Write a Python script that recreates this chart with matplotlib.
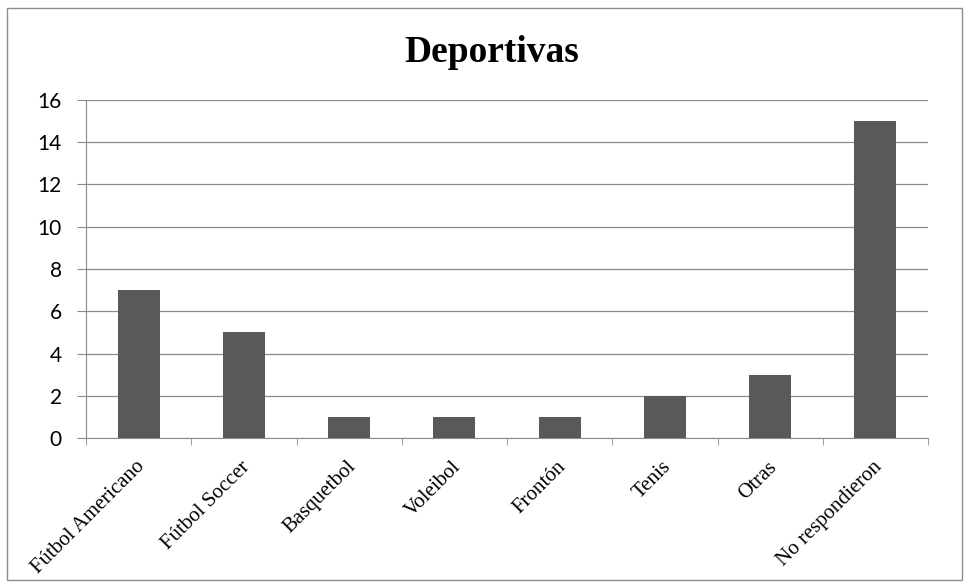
import matplotlib.pyplot as plt
from matplotlib.patches import Rectangle
from matplotlib.transforms import ScaledTranslation

categories = ['Fútbol Americano', 'Fútbol Soccer', 'Basquetbol', 'Voleibol',
              'Frontón', 'Tenis', 'Otras', 'No respondieron']
values = [7, 5, 1, 1, 1, 2, 3, 15]
yticks = [0, 2, 4, 6, 8, 10, 12, 14, 16]

fig = plt.figure(figsize=(9.64, 5.82), dpi=100)
ax = fig.add_axes([86 / 964, 1 - 438 / 582, (928 - 86) / 964, (438 - 100) / 582])

x = list(range(len(categories)))
ax.bar(x, values, width=0.4, color='#595959', zorder=3)

ax.set_xlim(-0.5, len(categories) - 0.5)
ax.set_ylim(0, 16)
ax.set_yticks(yticks)
ax.set_yticklabels([str(v) for v in yticks], fontsize=15, family='Lato')
ax.yaxis.grid(True, color='#8c8c8c', linewidth=0.9, zorder=0)
ax.tick_params(axis='y', length=6.5, color='#8c8c8c', pad=11)

# x labels at category centers, ticks at category boundaries
ax.set_xticks(x)
ax.set_xticklabels(categories, rotation=45, ha='right', rotation_mode='anchor',
                   fontsize=15, family='Liberation Serif')
ax.tick_params(axis='x', length=0, pad=14)
shift = ScaledTranslation(-3 / 100, 0, fig.dpi_scale_trans)
for lbl in ax.get_xticklabels():
    lbl.set_transform(lbl.get_transform() + shift)
ax.set_xticks([i - 0.5 for i in range(len(categories) + 1)], minor=True)
ax.tick_params(axis='x', which='minor', length=5, color='#8c8c8c')

for side in ['top', 'right']:
    ax.spines[side].set_visible(False)
for side in ['left', 'bottom']:
    ax.spines[side].set_color('#8c8c8c')

fig.text(0.51, 1 - 52 / 582, 'Deportivas', ha='center', va='center',
         fontsize=27, fontweight='bold', family='Liberation Serif')

fig.patches.append(Rectangle((7 / 964, 2 / 582), 955 / 964, 572 / 582,
                             transform=fig.transFigure, fill=False,
                             edgecolor='#8c8c8c', linewidth=1))

fig.savefig('out.png', dpi=100)
